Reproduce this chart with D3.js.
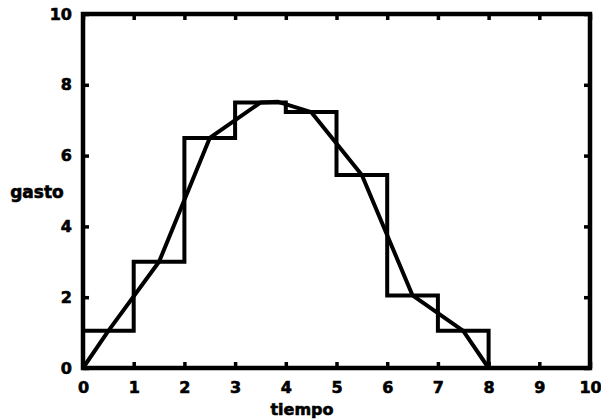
<!DOCTYPE html>
<html>
<head>
<meta charset="utf-8">
<script src="https://cdn.jsdelivr.net/npm/d3@7"></script>
<style>
  body { margin: 0; background: #fff; }
  text { font-family: "DejaVu Sans", sans-serif; font-weight: bold; }
</style>
</head>
<body>
<div id="chart"></div>
<script>
var W = 601, H = 420;

// step heights, one per unit interval of tiempo
var stepEdges = [0, 1, 2, 3, 4, 5, 6, 7, 8];
var stepValues = [1.05, 3.0, 6.5, 7.5, 7.23, 5.45, 2.05, 1.05];

// the line drawn over the steps
var curveX = [0, 0.5, 1.5, 2.5, 3.5, 3.85, 4.5, 5.5, 6.5, 7.5, 8];
var curveY = [0, 1.05, 3.0, 6.5, 7.5, 7.52, 7.23, 5.45, 2.05, 1.05, 0];

var xTicks = [0, 1, 2, 3, 4, 5, 6, 7, 8, 9, 10];
var yTicks = [0, 2, 4, 6, 8, 10];

var svg = d3.select("#chart")
    .append("svg")
    .attr("width", W)
    .attr("height", H);

var x = d3.scaleLinear().domain([0, 10]).range([83, 590]);
var y = d3.scaleLinear().domain([0, 10]).range([368, 14]);

// frame
svg.append("rect")
    .attr("x", x(0)).attr("y", y(10))
    .attr("width", x(10) - x(0)).attr("height", y(0) - y(10))
    .attr("fill", "none").attr("stroke", "#000").attr("stroke-width", 4.5);

// axes, ticks pointing inward
svg.append("g")
    .attr("transform", "translate(0," + y(0) + ")")
    .call(d3.axisBottom(x).tickValues(xTicks).tickSize(-6).tickPadding(14).tickFormat(d3.format("d")));
svg.append("g")
    .attr("transform", "translate(" + x(0) + ",0)")
    .call(d3.axisLeft(y).tickValues(yTicks).tickSize(-6).tickPadding(11).tickFormat(d3.format("d")));
svg.append("g")
    .attr("transform", "translate(0," + y(10) + ")")
    .call(d3.axisTop(x).tickValues(xTicks).tickSize(-6).tickFormat(""));
svg.append("g")
    .attr("transform", "translate(" + x(10) + ",0)")
    .call(d3.axisRight(y).tickValues(yTicks).tickSize(-6).tickFormat(""));

svg.selectAll(".domain").remove();
svg.selectAll(".tick line").attr("stroke", "#000").attr("stroke-width", 3.5);
svg.selectAll(".tick text").attr("fill", "#000").attr("font-size", 16)
    .attr("stroke", "#000").attr("stroke-width", 0.6);

// steps
var stepPts = stepEdges.map(function(e, i) {
    return [e, i < stepValues.length ? stepValues[i] : 0];
});
svg.append("path")
    .datum(stepPts)
    .attr("fill", "none")
    .attr("stroke", "#000")
    .attr("stroke-width", 4)
    .attr("stroke-linejoin", "miter")
    .attr("d", d3.line()
        .x(function(d) { return x(d[0]); })
        .y(function(d) { return y(d[1]); })
        .curve(d3.curveStepAfter));

// curve
var curvePts = curveX.map(function(v, i) { return [v, curveY[i]]; });
svg.append("path")
    .datum(curvePts)
    .attr("fill", "none")
    .attr("stroke", "#000")
    .attr("stroke-width", 4)
    .attr("stroke-linejoin", "round")
    .attr("d", d3.line()
        .x(function(d) { return x(d[0]); })
        .y(function(d) { return y(d[1]); }));

// axis titles
svg.append("text")
    .attr("x", 302).attr("y", 415)
    .attr("text-anchor", "middle")
    .attr("font-size", 16)
    .attr("stroke", "#000").attr("stroke-width", 0.6)
    .text("tiempo");
svg.append("text")
    .attr("x", 37).attr("y", 198)
    .attr("text-anchor", "middle")
    .attr("font-size", 17)
    .attr("stroke", "#000").attr("stroke-width", 0.6)
    .text("gasto");
</script>
</body>
</html>
